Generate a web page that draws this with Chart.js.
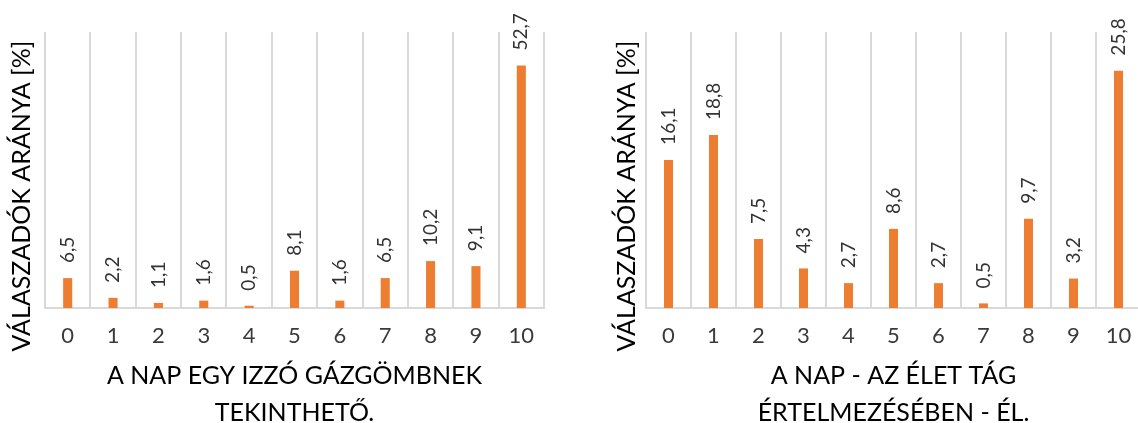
<!DOCTYPE html>
<html>
<head>
<meta charset="utf-8">
<script src="https://cdn.jsdelivr.net/npm/chart.js@4.4.1/dist/chart.umd.min.js"></script>
<style>
  html, body { margin: 0; padding: 0; background: #fff; overflow: hidden; width: 1138px; height: 423px; }
  canvas { position: absolute; top: 0; }
  #c1 { left: 0; }
  #c2 { left: 565px; }
</style>
</head>
<body>
<canvas id="c1" width="565" height="423"></canvas>
<canvas id="c2" width="600" height="423"></canvas>
<script>
// Scores on the 0-10 agreement scale
const scores = ['0', '1', '2', '3', '4', '5', '6', '7', '8', '9', '10'];

// Share of respondents (%) per score
const sunGasBall = [6.5, 2.2, 1.1, 1.6, 0.5, 8.1, 1.6, 6.5, 10.2, 9.1, 52.7];
const sunAlive = [16.1, 18.8, 7.5, 4.3, 2.7, 8.6, 2.7, 0.5, 9.7, 3.2, 25.8];

// Axis texts
const yAxisTitle = 'VÁLASZADÓK ARÁNYA [%]';
const sunGasBallTitle = ['A NAP EGY IZZÓ GÁZGÖMBNEK', 'TEKINTHETŐ.'];
const sunAliveTitle = ['A NAP - AZ ÉLET TÁG', 'ÉRTELMEZÉSÉBEN - ÉL.'];

// Upper ends of the value axes
const sunGasBallMax = 60;
const sunAliveMax = 30;

const FONT = 'Lato';
const BAR_COLOR = '#ED7D31';
const GRID_COLOR = '#d9d9d9';

// Rotated value labels above each bar
const valueLabels = {
  id: 'valueLabels',
  afterDatasetsDraw(chart, args, opts) {
    const { ctx } = chart;
    const meta = chart.getDatasetMeta(0);
    const data = chart.data.datasets[0].data;
    ctx.save();
    ctx.font = `${opts.size}px ${FONT}`;
    ctx.fillStyle = opts.color;
    ctx.textAlign = 'left';
    ctx.textBaseline = 'middle';
    meta.data.forEach((bar, i) => {
      const text = data[i].toFixed(1).replace('.', ',');
      ctx.save();
      ctx.translate(bar.x + opts.dx, bar.y - opts.gap);
      ctx.rotate(-Math.PI / 2);
      ctx.fillText(text, 0, 0);
      ctx.restore();
    });
    ctx.restore();
  }
};

// Vertical title beside the plot
const sideTitle = {
  id: 'sideTitle',
  afterDraw(chart, args, opts) {
    const { ctx } = chart;
    ctx.save();
    ctx.font = `${opts.size}px ${FONT}`;
    ctx.fillStyle = opts.color;
    ctx.textAlign = 'center';
    ctx.textBaseline = 'middle';
    ctx.translate(opts.x, opts.y);
    ctx.rotate(-Math.PI / 2);
    ctx.fillText(opts.text, 0, 0);
    ctx.restore();
  }
};

function makeChart(id, values, max, xTitle, pad, titleX) {
  return new Chart(document.getElementById(id), {
    type: 'bar',
    data: {
      labels: scores,
      datasets: [{
        data: values,
        backgroundColor: BAR_COLOR,
        borderWidth: 0,
        barPercentage: 0.2,
        categoryPercentage: 1
      }]
    },
    plugins: [valueLabels, sideTitle],
    options: {
      responsive: false,
      animation: false,
      layout: { padding: pad },
      plugins: {
        legend: { display: false },
        tooltip: { enabled: false },
        valueLabels: { size: 19, color: '#333333', gap: 15, dx: 0 },
        sideTitle: { text: yAxisTitle, size: 25, color: '#000', x: titleX, y: 196 }
      },
      scales: {
        x: {
          grid: { color: GRID_COLOR, lineWidth: 2, drawTicks: false, offset: true },
          border: { color: GRID_COLOR, width: 2 },
          ticks: {
            font: { family: FONT, size: 22 },
            color: '#3a3a3a',
            padding: 15,
            maxRotation: 0,
            autoSkip: false
          },
          title: {
            display: true,
            text: xTitle,
            color: '#000',
            font: { family: FONT, size: 25, lineHeight: '37px' },
            padding: { top: 0, bottom: -8.5 }
          },
          afterFit(scale) { scale.height = 115; }
        },
        y: { display: false, min: 0, max: max }
      }
    }
  });
}

makeChart('c1', sunGasBall, sunGasBallMax, sunGasBallTitle,
  { left: 45, right: 21, top: 32, bottom: 0 }, 22);
makeChart('c2', sunAlive, sunAliveMax, sunAliveTitle,
  { left: 81, right: 24, top: 32, bottom: 0 }, 62);
</script>
</body>
</html>
